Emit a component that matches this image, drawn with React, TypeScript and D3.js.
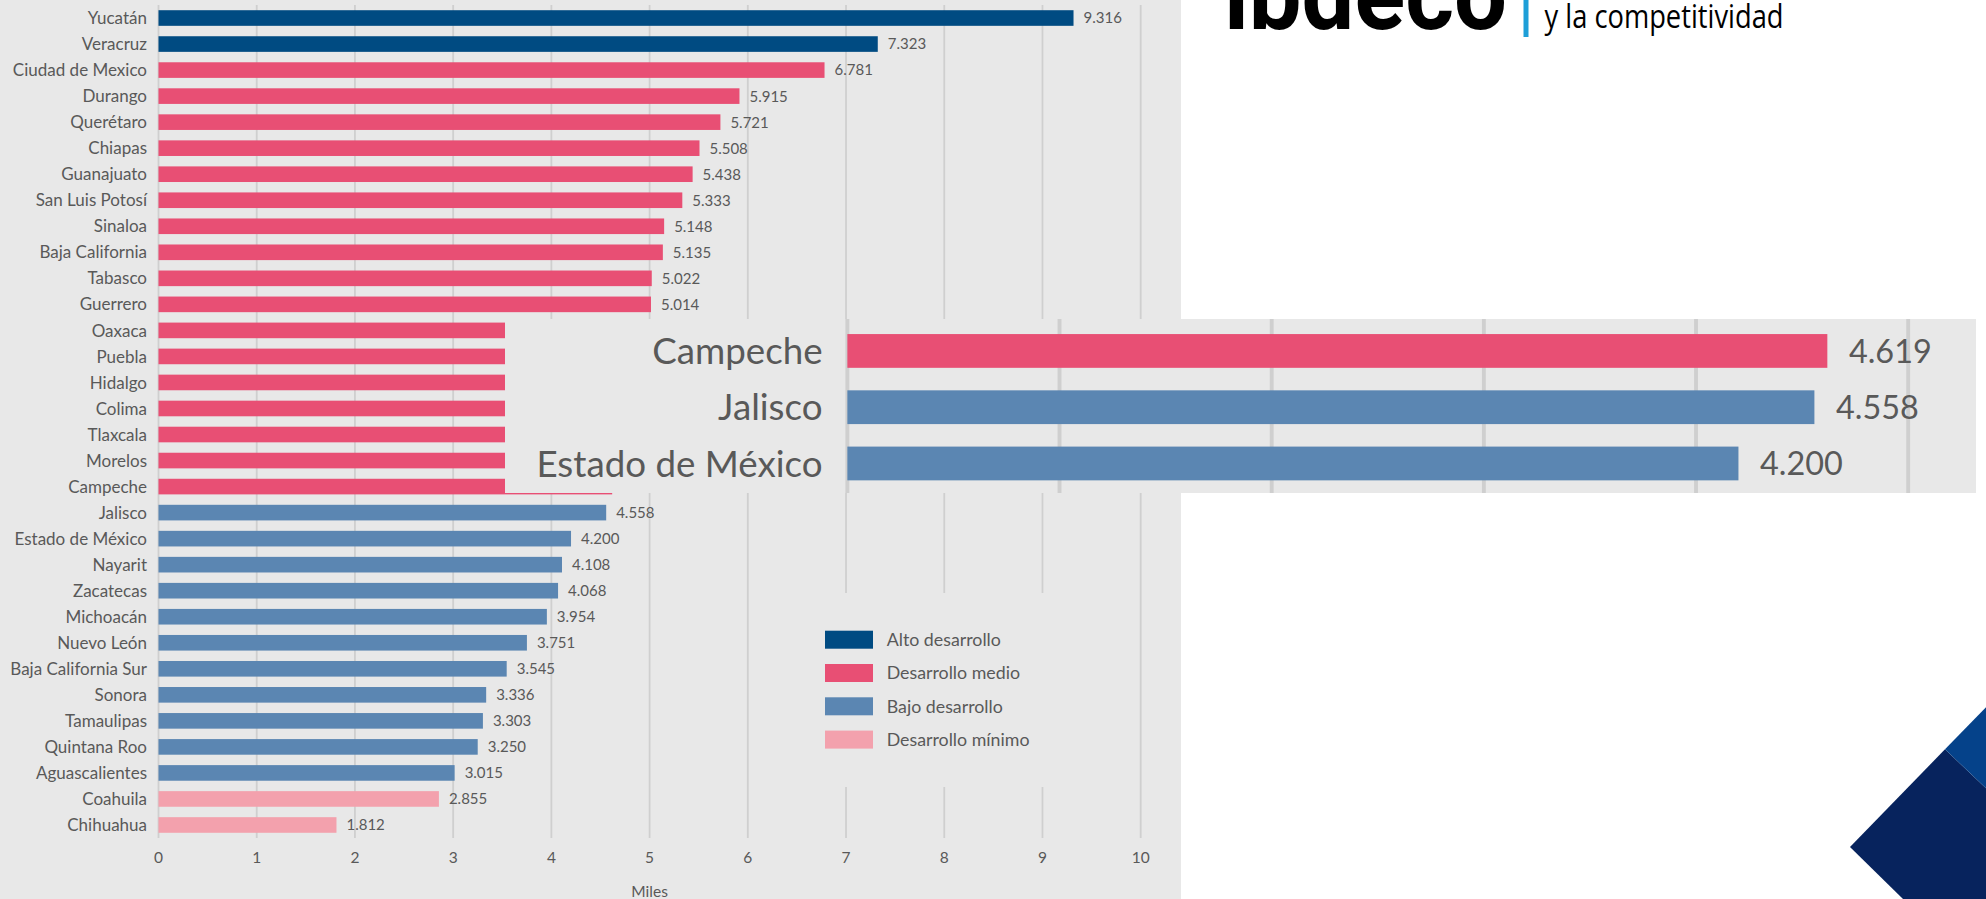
import React from "react";
import * as d3 from "d3";

const categories = [
  "Yucatán", "Veracruz", "Ciudad de Mexico", "Durango", "Querétaro", "Chiapas",
  "Guanajuato", "San Luis Potosí", "Sinaloa", "Baja California", "Tabasco", "Guerrero",
  "Oaxaca", "Puebla", "Hidalgo", "Colima", "Tlaxcala", "Morelos", "Campeche",
  "Jalisco", "Estado de México", "Nayarit", "Zacatecas", "Michoacán", "Nuevo León",
  "Baja California Sur", "Sonora", "Tamaulipas", "Quintana Roo", "Aguascalientes",
  "Coahuila", "Chihuahua",
];

const values = [
  9.316, 7.323, 6.781, 5.915, 5.721, 5.508,
  5.438, 5.333, 5.148, 5.135, 5.022, 5.014,
  4.95, 4.88, 4.8, 4.74, 4.69, 4.65, 4.619,
  4.558, 4.2, 4.108, 4.068, 3.954, 3.751,
  3.545, 3.336, 3.303, 3.25, 3.015,
  2.855, 1.812,
];

const groups = [
  "Alto desarrollo", "Alto desarrollo",
  "Desarrollo medio", "Desarrollo medio", "Desarrollo medio", "Desarrollo medio",
  "Desarrollo medio", "Desarrollo medio", "Desarrollo medio", "Desarrollo medio",
  "Desarrollo medio", "Desarrollo medio", "Desarrollo medio", "Desarrollo medio",
  "Desarrollo medio", "Desarrollo medio", "Desarrollo medio", "Desarrollo medio",
  "Desarrollo medio",
  "Bajo desarrollo", "Bajo desarrollo", "Bajo desarrollo", "Bajo desarrollo",
  "Bajo desarrollo", "Bajo desarrollo", "Bajo desarrollo", "Bajo desarrollo",
  "Bajo desarrollo", "Bajo desarrollo", "Bajo desarrollo",
  "Desarrollo mínimo", "Desarrollo mínimo",
];

// rows enlarged in the magnifier inset
const zoomRows = ["Campeche", "Jalisco", "Estado de México"];
// rows whose value labels are covered by the inset in the source picture
const coveredRows = ["Oaxaca", "Puebla", "Hidalgo", "Colima", "Tlaxcala", "Morelos", "Campeche"];

const legendLabels = ["Alto desarrollo", "Desarrollo medio", "Bajo desarrollo", "Desarrollo mínimo"];
const legendColors = ["#004b82", "#e84f74", "#5b86b2", "#f3a1ad"];
const xTicks = [0, 1, 2, 3, 4, 5, 6, 7, 8, 9, 10];
const axisTitle = "Miles";

const W = 1986;
const H = 899;
const FONT = "Lato, 'Open Sans', sans-serif";
const TXT = "#595959";

const color = d3.scaleOrdinal<string, string>().domain(legendLabels).range(legendColors);
const x = d3.scaleLinear().domain([0, 10]).range([158.5, 1140.7]);
const y = d3.scaleBand<string>().domain(categories).range([5, 838]).paddingInner(0.4).paddingOuter(0.2);
const fmt = d3.format(".3f");

function ChartBody({ inset }: { inset: boolean }) {
  const bw = y.bandwidth();
  const rows = categories
    .map((c, i) => ({ c, v: values[i], g: groups[i] }))
    .filter((r) => (inset ? zoomRows.includes(r.c) : true));
  return (
    <g>
      <rect x={0} y={0} width={1181} height={H} fill="#e8e8e8" />
      {xTicks.map((t) => (
        <line key={"g" + t} x1={x(t)} x2={x(t)} y1={5} y2={838} stroke="#cfcfcf" strokeWidth={1.8} />
      ))}
      {!inset && <rect x={770} y={593} width={340} height={194} fill="#e8e8e8" />}
      {rows.map((r) => (
        <g key={r.c}>
          <rect x={x(0)} y={y(r.c)} width={x(r.v) - x(0)} height={bw} fill={color(r.g)} />
          <text x={147} y={(y(r.c) as number) + bw / 2} dy="0.36em" textAnchor="end" fontSize={17} fill={TXT} fontFamily={FONT}>{r.c}</text>
          {(inset || !coveredRows.includes(r.c)) && (
            <text x={x(r.v) + 10} y={(y(r.c) as number) + bw / 2} dy="0.36em" textAnchor="start" fontSize={15} fill={TXT} fontFamily={FONT}>{fmt(r.v)}</text>
          )}
        </g>
      ))}
      {!inset && xTicks.map((t) => (
        <text key={"t" + t} x={x(t)} y={862.7} textAnchor="middle" fontSize={15.5} fill={TXT} fontFamily={FONT}>{t}</text>
      ))}
      {!inset && (
        <text x={(x(0) + x(10)) / 2} y={897} textAnchor="middle" fontSize={15.5} fill={TXT} fontFamily={FONT}>{axisTitle}</text>
      )}
      {!inset && legendLabels.map((l, i) => (
        <g key={l}>
          <rect x={825} y={630.7 + i * 33.3} width={48} height={18} fill={legendColors[i]} />
          <text x={886.7} y={630.7 + i * 33.3 + 9} dy="0.36em" fontSize={17.8} fill={TXT} fontFamily={FONT}>{l}</text>
        </g>
      ))}
    </g>
  );
}

export default function App() {
  return (
    <svg width={W} height={H} style={{ position: "absolute", left: 0, top: 0, background: "#ffffff" }}>
      <rect x={0} y={0} width={W} height={H} fill="#ffffff" />
      <ChartBody inset={false} />
      {/* magnified inset */}
      <svg x={505} y={319} width={1471} height={174} viewBox="0 471.8 681 80.5" preserveAspectRatio="none">
        <ChartBody inset={true} />
      </svg>
      {/* logo */}
      <text x={1224} y={29} fontSize={100} fontWeight={700} fill="#000" fontFamily="Roboto, sans-serif" textLength={283} lengthAdjust="spacingAndGlyphs">ibdeco</text>
      <rect x={1523.5} y={0} width={5} height={37} fill="#1e9fd8" />
      <text x={1544.5} y={28} fontSize={32} fill="#000" fontFamily="'Open Sans', sans-serif" textLength={239} lengthAdjust="spacingAndGlyphs">y la competitividad</text>
      {/* corner shape */}
      <polygon points="1850,847 1945,749.3 1986,788.3 1986,899 1903,899" fill="#07235d" />
      <polygon points="1945,749.3 1986,707.3 1986,788.3" fill="#05428a" />
    </svg>
  );
}
